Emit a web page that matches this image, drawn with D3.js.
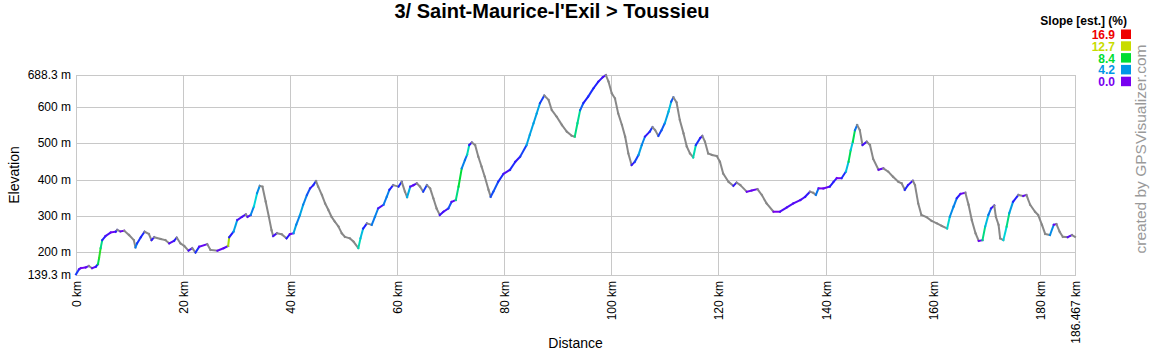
<!DOCTYPE html>
<html lang="en">
  <head>
    <meta charset="UTF-8" />
    <title>3/ Saint-Maurice-l'Exil > Toussieu</title>
    <style>
      body { margin: 0; background: #fff; }
      text { font-family: Arial, "Liberation Sans", sans-serif; }
    </style>
  </head>
  <body>
    <div id="wrapper"></div>
    <script src="https://d3js.org/d3.v7.min.js"></script>
    <script>
      // profile: distance (km) / elevation (m)
      const distances = [
        0, 0.56, 0.9, 1.8, 2.4, 3.0, 3.7, 4.1, 4.3, 4.6, 4.9, 5.5, 6.5, 7.4, 7.7, 8.3, 9.0, 9.9, 10.8, 11.1,
        11.4, 12.1, 12.8, 13.6, 14.1, 14.6, 15.8, 16.7, 17.4, 18.3, 18.8, 19.5, 20.2, 21.0, 21.7, 22.3, 23.0, 24.5, 25.1, 26.4,
        27.6, 28.4, 28.6, 29.4, 30.1, 31.0, 31.7, 32.0, 32.6, 33.2, 33.8, 34.3, 34.8, 35.4, 36.0, 36.5, 36.8, 37.5, 38.4, 39.3,
        39.9, 40.6, 41.1, 41.8, 42.4, 43.1, 43.7, 44.3, 44.8, 45.2, 45.9, 46.5, 47.1, 47.7, 48.3, 49.0, 49.6, 50.2, 51.1, 51.8,
        52.7, 53.1, 53.6, 54.3, 55.2, 55.8, 56.4, 57.4, 58.0, 58.5, 59.2, 60.2, 60.8, 61.4, 61.8, 62.4, 63.0, 63.6, 64.2, 64.8,
        65.5, 66.1, 66.7, 67.3, 67.9, 68.6, 69.5, 70.1, 70.9, 71.4, 72.0, 72.6, 73.0, 73.4, 73.9, 74.5, 75.1, 75.7, 76.3, 77.0,
        77.4, 77.9, 78.8, 79.8, 81.0, 82.0, 82.9, 84.1, 84.7, 85.4, 86.0, 86.6, 87.4, 88.2, 88.8, 89.7, 90.7, 91.6, 92.5, 93.1,
        93.6, 94.1, 94.7, 95.6, 96.6, 97.5, 98.3, 98.9, 99.4, 100.0, 100.6, 101.2, 101.9, 102.5, 103.1, 103.7, 104.3, 105.0, 105.6, 106.2,
        107.1, 107.6, 108.1, 108.7, 109.3, 109.9, 110.6, 111.1, 111.5, 112.1, 112.7, 113.4, 114.0, 114.6, 115.2, 115.7, 116.5, 116.9, 117.4, 118.0,
        118.7, 119.6, 120.2, 120.8, 121.8, 122.7, 123.3, 124.0, 125.2, 126.1, 127.2, 128.0, 128.9, 130.2, 131.4, 132.7, 133.9, 135.2, 136.1, 137.0,
        137.6, 138.1, 138.6, 139.5, 140.7, 141.4, 142.0, 142.9, 143.7, 144.2, 144.6, 145.0, 145.4, 145.8, 146.3, 146.8, 147.6, 148.2, 148.8, 149.8,
        150.7, 151.6, 152.5, 153.5, 154.1, 154.7, 155.3, 156.2, 156.6, 157.2, 157.8, 158.8, 159.7, 160.7, 161.6, 162.6, 163.1, 163.8, 164.4, 165.1,
        166.0, 166.6, 167.2, 167.9, 168.5, 169.2, 169.7, 170.3, 170.8, 171.4, 171.7, 172.2, 172.5, 173.1, 173.7, 174.2, 174.9, 175.9, 176.8, 177.4,
        178.1, 179.0, 179.6, 180.3, 180.9, 181.8, 182.5, 183.0, 183.6, 184.2, 185.1, 185.9, 186.467
      ];
      const elevations = [
        141, 155, 158, 160, 164, 158, 162, 169, 185, 213, 235, 246, 256, 258, 263, 259, 261, 249, 235, 215,
        226, 243, 258, 252, 235, 243, 238, 235, 226, 233, 242, 226, 219, 206, 213, 201, 217, 224, 208, 206,
        213, 219, 243, 258, 290, 299, 306, 299, 304, 327, 364, 384, 382, 341, 299, 262, 246, 254, 251, 240,
        251, 254, 277, 304, 332, 359, 377, 386, 397, 382, 359, 336, 318, 299, 286, 272, 254, 244, 240, 231,
        213, 240, 267, 281, 277, 299, 322, 332, 354, 373, 386, 382, 395, 368, 353, 382, 386, 391, 382, 368,
        386, 377, 350, 322, 304, 313, 322, 340, 345, 382, 432, 455, 469, 496, 503, 496, 464, 437, 409, 373,
        354, 368, 395, 417, 428, 450, 464, 496, 524, 556, 583, 611, 632, 620, 592, 574, 551, 533, 522, 519,
        556, 592, 611, 629, 652, 670, 682, 688, 670, 638, 624, 583, 551, 519, 473, 441, 450, 469, 496, 519,
        533, 545, 537, 521, 537, 556, 588, 615, 627, 613, 565, 528, 492, 473, 462, 496, 515, 521, 505, 473,
        469, 466, 450, 418, 395, 384, 393, 386, 368, 371, 375, 359, 336, 313, 313, 325, 336, 345, 354, 368,
        365, 359, 377, 377, 382, 395, 405, 405, 423, 450, 482, 505, 537, 551, 537, 496, 505, 496, 458, 428,
        432, 423, 409, 395, 391, 373, 386, 398, 386, 336, 304, 298, 288, 281, 274, 267, 299, 327, 350, 362,
        365, 332, 290, 254, 233, 235, 272, 304, 322, 330, 299, 277, 240, 235, 272, 309, 340, 359, 356, 359,
        332, 313, 304, 277, 252, 249, 277, 279, 258, 244, 243, 249, 244
      ];
      const yTicks = [200, 300, 400, 500, 600];
      const xTicks = [0, 20, 40, 60, 80, 100, 120, 140, 160, 180];
      const slopeLabels = ["16.9", "12.7", "8.4", "4.2", "0.0"];
      const slopeColors = ["#ee0000", "#c8dc00", "#00dd33", "#0096e6", "#7800f0"];

      const width = 1150, height = 350;
      const margin = {top: 75, right: 75, bottom: 75, left: 76};
      const yMin = 139.3, yMax = 688.3, xMax = 186.467;

      const svg = d3.select("#wrapper")
        .append("svg")
          .attr("width", width)
          .attr("height", height);

      const x = d3.scaleLinear()
        .domain([0, xMax])
        .range([margin.left, width - margin.right]);
      const y = d3.scaleLinear()
        .domain([yMin, yMax])
        .range([height - margin.bottom, margin.top]);

      // grid + frame
      const grid = svg.append("g").attr("stroke", "#c8c8c8").attr("shape-rendering", "crispEdges");
      grid.selectAll(".hg")
        .data(yTicks)
        .join("line")
          .attr("x1", x(0)).attr("x2", x(xMax))
          .attr("y1", d => y(d)).attr("y2", d => y(d));
      grid.selectAll(".vg")
        .data(xTicks.slice(1))
        .join("line")
          .attr("y1", y(yMin)).attr("y2", y(yMax))
          .attr("x1", d => x(d)).attr("x2", d => x(d));
      grid.append("rect")
        .attr("x", x(0)).attr("y", y(yMax))
        .attr("width", x(xMax) - x(0)).attr("height", y(yMin) - y(yMax))
        .attr("fill", "none");

      // y labels
      const yLabels = [yMax].concat(yTicks.slice().reverse(), [yMin]);
      svg.append("g")
        .attr("font-size", 12)
        .attr("text-anchor", "end")
        .selectAll("text")
        .data(yLabels)
        .join("text")
          .attr("x", x(0) - 5)
          .attr("y", d => y(d))
          .attr("dy", "0.3em")
          .text(d => (d % 1 ? d.toFixed(1) : d) + " m");

      // x labels, rotated
      const xLabels = xTicks.concat([xMax]);
      svg.append("g")
        .attr("font-size", 12)
        .attr("text-anchor", "end")
        .selectAll("text")
        .data(xLabels)
        .join("text")
          .attr("transform", d => `translate(${x(d) + 4.5},${y(yMin) + 6}) rotate(-90)`)
          .text(d => d + " km");

      // profile, one segment per pair of points, coloured by slope
      const slopeColor = d3.scaleLinear()
        .domain([0, 2, 4.2, 6.3, 8.4, 12.7, 15, 16.9])
        .range(["#7800f0", "#1e1eff", "#0096e6", "#00d8d8", "#00dd33", "#c8dc00", "#f09000", "#ee0000"])
        .clamp(true);

      const points = distances.map((d, i) => ({km: d, ele: elevations[i]}));
      const segments = d3.pairs(points);
      const line = d3.line().x(d => x(d.km)).y(d => y(d.ele));

      svg.append("g")
        .selectAll("path")
        .data(segments)
        .join("path")
          .attr("fill", "none")
          .attr("stroke-width", 2)
          .attr("stroke-linecap", "square")
          .attr("stroke", function (d) {
            const slope = (d[1].ele - d[0].ele) / ((d[1].km - d[0].km) * 10);
            return slope < 0 ? "#888888" : slopeColor(slope);
          })
          .attr("d", d => line(d));

      // titles
      svg.append("text")
        .attr("x", 552).attr("y", 18)
        .attr("text-anchor", "middle")
        .attr("font-size", 20).attr("font-weight", "bold")
        .text("3/ Saint-Maurice-l'Exil > Toussieu");

      svg.append("text")
        .attr("transform", `translate(19,${(y(yMin) + y(yMax)) / 2}) rotate(-90)`)
        .attr("text-anchor", "middle")
        .attr("font-size", 14)
        .text("Elevation");

      svg.append("text")
        .attr("x", (x(0) + x(xMax)) / 2).attr("y", 348)
        .attr("text-anchor", "middle")
        .attr("font-size", 14)
        .text("Distance");

      // slope legend
      svg.append("text")
        .attr("x", 1127).attr("y", 25)
        .attr("text-anchor", "end")
        .attr("font-size", 12).attr("font-weight", "bold")
        .text("Slope [est.] (%)");

      const legend = svg.append("g")
        .selectAll("g")
        .data(slopeLabels)
        .join("g")
          .attr("transform", (d, i) => `translate(0,${39 + i * 11.8})`);
      legend.append("text")
        .attr("x", 1115)
        .attr("text-anchor", "end")
        .attr("font-size", 12).attr("font-weight", "bold")
        .attr("fill", (d, i) => slopeColors[i])
        .text(d => d);
      legend.append("rect")
        .attr("x", 1121).attr("y", -9.5)
        .attr("width", 10).attr("height", 9.5)
        .attr("fill", (d, i) => slopeColors[i]);

      svg.append("text")
        .attr("transform", "translate(1146,149) rotate(-90)")
        .attr("text-anchor", "middle")
        .attr("font-size", 15.5)
        .attr("fill", "#999999")
        .text("created by GPSVisualizer.com");
    </script>
  </body>
</html>
